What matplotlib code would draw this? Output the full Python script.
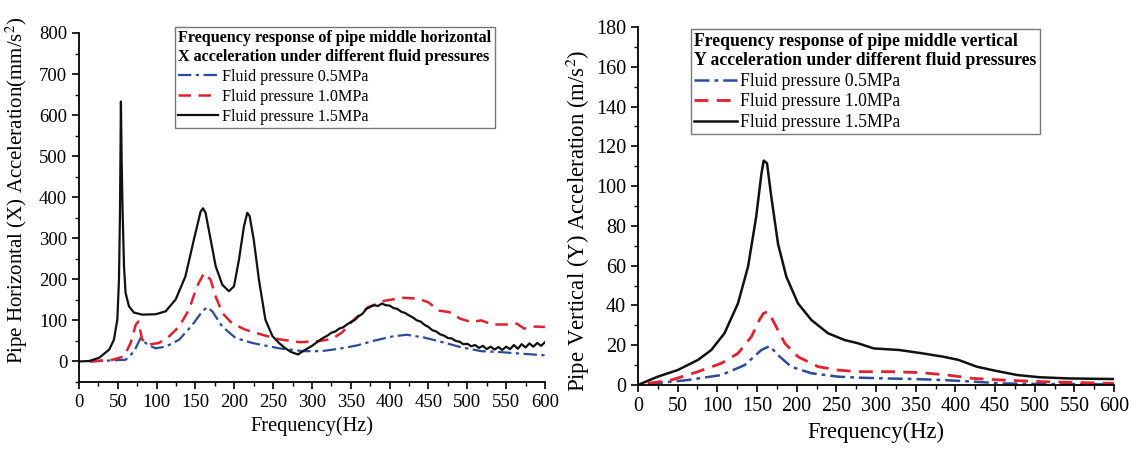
import matplotlib
matplotlib.use("Agg")
import matplotlib.pyplot as plt
from matplotlib.ticker import MultipleLocator

plt.rcParams["font.family"] = ["Liberation Serif", "DejaVu Serif"]
plt.rcParams["mathtext.fontset"] = "stix"

BLUE = "#2b4c9e"
RED = "#e3202b"
BLACK = "#111111"

# ---- left panel: horizontal X acceleration (mm/s^2) ----
x_f_05 = [13, 60, 70.8, 79.4, 88, 98.7, 111.6, 129, 146, 158.8, 165, 171.7, 184.5, 201.7, 223,
          257.5, 289, 312, 335, 358, 381, 404, 422, 445, 468, 491, 518, 541, 569, 600]
x_a_05 = [0, 4, 24, 57, 41, 32, 36, 53, 89, 122, 132, 122, 85, 57, 45,
          32, 25, 25, 31, 39, 51, 61, 65, 58, 47, 35, 25, 23, 19, 15]

x_f_10 = [15, 43, 58, 66.5, 73, 76.4, 81.5, 90, 103, 116, 129, 141.6, 152, 161, 169.5, 176, 184.5,
          197, 214.6, 236, 257.5, 284, 307, 326, 339, 353, 372, 394, 417, 436, 450, 463, 477,
          491, 505, 518, 532, 550, 564, 573, 587, 600]
x_a_10 = [0, 4, 12, 45, 89, 97, 53, 41, 45, 61, 85, 126, 183, 215, 199, 158, 118,
          93, 77, 65, 54, 47, 49, 55, 71, 100, 132, 148, 155, 153, 144, 124, 120,
          104, 96, 100, 90, 90, 92, 80, 85, 84]

x_f_15 = [0, 13, 26, 39, 45, 49.4, 51.5, 52.8, 54, 55, 56.2, 58, 60, 64.4, 70.8, 81.5, 98.7, 111.6,
          124.5, 137, 148, 156.6, 159.6, 163, 169.5, 176, 184.5, 193, 199.6, 206, 212.4, 216.7,
          219.7, 225, 231.7, 240, 249, 257.5, 265, 273, 282, 290,
          300, 305, 310, 315, 320, 325, 330, 335, 340, 345, 350, 355, 360, 365, 370, 375,
          380, 385, 390, 395, 400, 405, 410, 415, 420, 425, 430, 435, 440, 445, 450, 455,
          460, 465, 470, 475, 480, 485, 490, 495, 500, 505, 510, 515, 520, 525, 530, 535,
          540, 545, 550, 555, 560, 565, 570, 575, 580, 585, 590, 595, 600]
x_a_15 = [0, 1, 9, 29, 53, 102, 199, 362, 633, 484, 362, 231, 167, 134, 119, 114, 115, 122,
          151, 207, 297, 365, 373, 362, 297, 232, 187, 171, 183, 248, 329, 362,
          354, 297, 199, 102, 62, 45, 33, 23, 17, 27,
          38, 45, 52, 58, 63, 70, 73, 80, 83, 90, 96, 101, 110, 116, 128, 133,
          137, 135, 141, 137, 136, 130, 128, 121, 118, 112, 107, 100, 97, 89, 84, 76,
          73, 66, 63, 57, 56, 50, 48, 42, 43, 37, 40, 33, 38, 30, 36, 29,
          35, 28, 36, 30, 40, 31, 42, 34, 44, 36, 45, 38, 47]

# ---- right panel: vertical Y acceleration (m/s^2) ----
y_f_05 = [12.6, 63, 105, 134.5, 155.5, 166, 176.5, 193, 218.5, 252, 277, 311, 348, 385, 422,
          459, 506, 600]
y_a_05 = [0.5, 2.5, 5, 10, 17.6, 19.6, 15, 9.2, 5.9, 4.2, 3.7, 3.3, 3, 2.5, 1.7,
          0.8, 0.5, 0.3]

y_f_10 = [12.6, 42, 75.6, 105, 126, 143, 153, 158, 164, 172, 185, 201.7, 227, 252, 277, 320,
          357, 390, 422, 459, 506, 600]
y_a_10 = [0.8, 2.5, 6.7, 10.9, 15.9, 24.3, 32.7, 36, 36.9, 31, 21, 14.2, 9.2, 7.5, 6.7, 6.7,
          6.2, 5, 3.3, 2.5, 1.7, 0.8]

y_f_15 = [0, 25, 50, 75.6, 92.4, 109, 126, 138.7, 149, 155.5, 158.4, 162.6, 168, 176.5, 187,
          201.7, 218.5, 239.5, 260.5, 277, 297, 329, 357, 385, 404, 427, 450, 478, 506, 543, 600]
y_a_15 = [0, 4.2, 7.5, 12.6, 17.6, 26, 41, 59.5, 84.6, 106, 112.8, 111.5, 94.7, 71, 54.4,
          41, 32.7, 26, 22.6, 21, 18.4, 17.6, 16, 14.2, 12.6, 9.2, 7.2, 5, 3.9, 3.3, 3]

labels = ["Fluid pressure 0.5MPa", "Fluid pressure 1.0MPa", "Fluid pressure 1.5MPa"]


def style_axes(ax, tick_size):
    for side in ["top", "right"]:
        ax.spines[side].set_visible(False)
    for side in ["left", "bottom"]:
        ax.spines[side].set_linewidth(1.3)
    ax.tick_params(which="major", direction="out", length=5, width=1.2, labelsize=tick_size)
    ax.tick_params(which="minor", direction="out", length=3, width=1.0)
    ax.xaxis.set_major_locator(MultipleLocator(50))
    ax.xaxis.set_minor_locator(MultipleLocator(25))
    ax.set_xlim(0, 600)


fig = plt.figure(figsize=(11.38, 4.58), dpi=100)

# left
ax1 = fig.add_axes([0.0694, 0.166, 0.4095, 0.762])
ax1.plot(x_f_05, x_a_05, color=BLUE, lw=1.6, ls=(0, (6, 2, 1.5, 2)), label=labels[0])
ax1.plot(x_f_10, x_a_10, color=RED, lw=1.8, ls=(0, (5, 3)), label=labels[1])
ax1.plot(x_f_15, x_a_15, color=BLACK, lw=1.6, label=labels[2])
style_axes(ax1, 13.5)
ax1.set_ylim(-50, 800)
ax1.yaxis.set_minor_locator(MultipleLocator(50))
ax1.set_yticks(range(0, 801, 100))
ax1.set_xlabel("Frequency(Hz)", fontsize=14.7)
ax1.set_ylabel("Pipe Horizontal (X) Acceleration(mm/s$^{2}$)", fontsize=15)
ax1.yaxis.set_label_coords(-0.105, 0.55)
leg1 = ax1.legend(title="Frequency response of pipe middle horizontal\n"
                        "X acceleration under different fluid pressures",
                  title_fontproperties={"weight": "bold", "size": 11.6},
                  alignment="left", fontsize=11.6, loc="upper left",
                  bbox_to_anchor=(0.206, 1.017), borderaxespad=0, fancybox=False,
                  edgecolor="#777777", framealpha=1, handlelength=2.5,
                  handletextpad=0.2, labelspacing=0.25, borderpad=0.2)
leg1.get_frame().set_linewidth(1.0)

# right
ax2 = fig.add_axes([0.5606, 0.1594, 0.4184, 0.7817])
ax2.plot(y_f_05, y_a_05, color=BLUE, lw=1.8, ls=(0, (6, 2, 1.5, 2)), label=labels[0])
ax2.plot(y_f_10, y_a_10, color=RED, lw=2.0, ls=(0, (5, 3)), label=labels[1])
ax2.plot(y_f_15, y_a_15, color=BLACK, lw=1.8, label=labels[2])
style_axes(ax2, 14.5)
ax2.set_ylim(0, 180)
ax2.yaxis.set_major_locator(MultipleLocator(20))
ax2.yaxis.set_minor_locator(MultipleLocator(10))
ax2.set_xlabel("Frequency(Hz)", fontsize=16.3)
ax2.set_ylabel("Pipe Vertical (Y) Acceleration (m/s$^{2}$)", fontsize=16.4)
ax2.yaxis.set_label_coords(-0.097, 0.458)
leg2 = ax2.legend(title="Frequency response of pipe middle vertical\n"
                        "Y acceleration under different fluid pressures",
                  title_fontproperties={"weight": "bold", "size": 12.7},
                  alignment="left", fontsize=12.7, loc="upper left",
                  bbox_to_anchor=(0.111, 0.994), borderaxespad=0, fancybox=False,
                  edgecolor="#777777", framealpha=1, handlelength=2.4,
                  handletextpad=0.2, labelspacing=0.2, borderpad=0.2)
leg2.get_frame().set_linewidth(1.0)

plt.savefig("out.png", dpi=100)
